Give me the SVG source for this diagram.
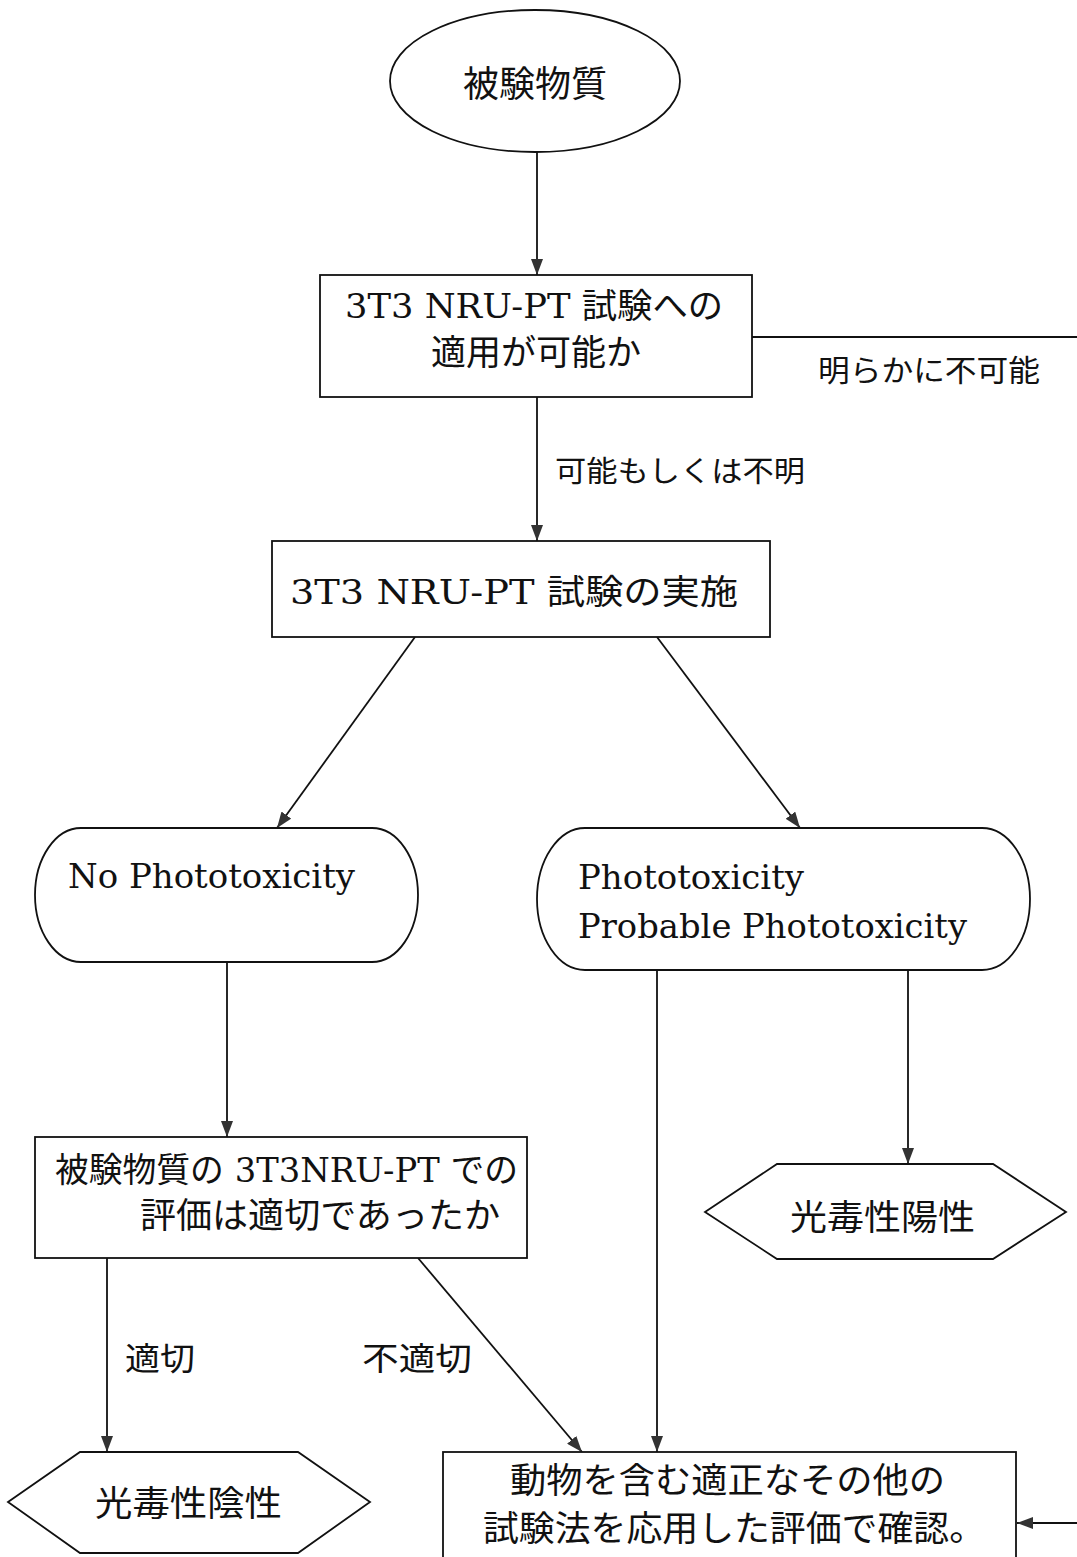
<svg xmlns="http://www.w3.org/2000/svg" width="1077" height="1557" viewBox="0 0 1077 1557">
<style>
.s{fill:#fff;stroke:#111;stroke-width:1.8}
.t{font-family:"DejaVu Serif","Noto Sans CJK JP",serif;fill:#111}
.j{font-family:"Noto Sans CJK JP",sans-serif;fill:#111}
.c{fill:none;stroke:#111;stroke-width:1.8}
</style>
<defs>
<marker id="ah" viewBox="0 0 16 12" refX="16" refY="6" markerWidth="16" markerHeight="12" markerUnits="userSpaceOnUse" orient="auto">
<path d="M0,0 L16,6 L0,12 z" fill="#333"/>
</marker>
</defs>
<rect width="1077" height="1557" fill="#fff"/>
<g id="connectors">
<line class="c" x1="537" y1="151" x2="537" y2="275" marker-end="url(#ah)"/>
<line class="c" x1="537" y1="397" x2="537" y2="541" marker-end="url(#ah)"/>
<line class="c" x1="415" y1="637" x2="277" y2="828" marker-end="url(#ah)"/>
<line class="c" x1="657" y1="637" x2="800" y2="828" marker-end="url(#ah)"/>
<line class="c" x1="227" y1="962" x2="227" y2="1137" marker-end="url(#ah)"/>
<line class="c" x1="908" y1="970" x2="908" y2="1164" marker-end="url(#ah)"/>
<line class="c" x1="657" y1="970" x2="657" y2="1452" marker-end="url(#ah)"/>
<line class="c" x1="107" y1="1258" x2="107" y2="1452" marker-end="url(#ah)"/>
<line class="c" x1="418" y1="1258" x2="582" y2="1452" marker-end="url(#ah)"/>
<line class="c" x1="752" y1="337" x2="1077" y2="337"/>
<line class="c" x1="1077" y1="1523" x2="1017" y2="1523" marker-end="url(#ah)"/>
<text class="j" x="818" y="381" font-size="30" textLength="222" lengthAdjust="spacingAndGlyphs">明らかに不可能</text>
<text class="j" x="555" y="482" font-size="29" textLength="250" lengthAdjust="spacingAndGlyphs">可能もしくは不明</text>
<text class="j" x="125" y="1370" font-size="32" textLength="70" lengthAdjust="spacingAndGlyphs">適切</text>
<text class="j" x="362" y="1370" font-size="32" textLength="110" lengthAdjust="spacingAndGlyphs">不適切</text>
</g>
<g id="start">
<ellipse class="s" cx="535" cy="81" rx="145" ry="71"/>
<text class="t" x="535" y="97" font-size="36" text-anchor="middle">被験物質</text>
</g>
<g id="applicable">
<rect class="s" x="320" y="275" width="432" height="122"/>
<text class="t" x="345" y="318" font-size="34" textLength="378" lengthAdjust="spacingAndGlyphs">3T3 NRU-PT 試験への</text>
<text class="t" x="536" y="365" font-size="35" text-anchor="middle">適用が可能か</text>
</g>
<g id="run">
<rect class="s" x="272" y="541" width="498" height="96"/>
<text class="t" x="290" y="604" font-size="34" textLength="448" lengthAdjust="spacingAndGlyphs">3T3 NRU-PT 試験の実施</text>
</g>
<g id="nophoto">
<rect class="s" x="35" y="828" width="383" height="134" rx="46" ry="67"/>
<text class="t" x="68" y="888" font-size="34" textLength="287" lengthAdjust="spacingAndGlyphs">No Phototoxicity</text>
</g>
<g id="photo">
<rect class="s" x="537" y="828" width="493" height="142" rx="48" ry="71"/>
<text class="t" x="578" y="889" font-size="34" textLength="226" lengthAdjust="spacingAndGlyphs">Phototoxicity</text>
<text class="t" x="578" y="938" font-size="34" textLength="389" lengthAdjust="spacingAndGlyphs">Probable Phototoxicity</text>
</g>
<g id="evaluate">
<rect class="s" x="35" y="1137" width="492" height="121"/>
<text class="t" x="55" y="1182" font-size="34" textLength="463" lengthAdjust="spacingAndGlyphs">被験物質の 3T3NRU-PT での</text>
<text class="t" x="140" y="1228" font-size="35" textLength="360" lengthAdjust="spacingAndGlyphs">評価は適切であったか</text>
</g>
<g id="positive">
<polygon class="s" points="705,1212 777,1164 993,1164 1066,1212 993,1259 777,1259"/>
<text class="j" x="790" y="1230" font-size="35" textLength="185" lengthAdjust="spacingAndGlyphs">光毒性陽性</text>
</g>
<g id="negative">
<polygon class="s" points="8,1502 80,1452 298,1452 370,1502 298,1553 80,1553"/>
<text class="j" x="95" y="1516" font-size="35" textLength="187" lengthAdjust="spacingAndGlyphs">光毒性陰性</text>
</g>
<g id="confirm">
<rect class="s" x="443" y="1452" width="573" height="120"/>
<text class="j" x="510" y="1493" font-size="35" textLength="435" lengthAdjust="spacingAndGlyphs">動物を含む適正なその他の</text>
<text class="j" x="483" y="1541" font-size="35" textLength="502" lengthAdjust="spacingAndGlyphs">試験法を応用した評価で確認。</text>
</g>
</svg>
